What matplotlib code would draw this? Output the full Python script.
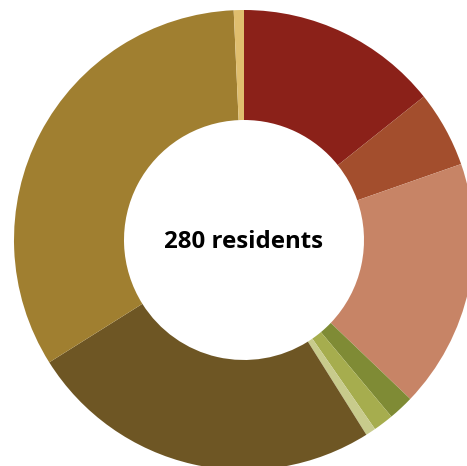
import matplotlib.pyplot as plt

# Residents by group, clockwise from 12 o'clock
groups = ["A", "B", "C", "D", "E", "F", "G", "H", "I"]
residents = [40, 15, 49, 5, 4, 2, 70, 93, 2]
colors = ["#8B2119", "#A34E2D", "#C78466", "#7F8B35", "#A6AD4E",
          "#C8CB8C", "#6E5624", "#A07F30", "#E0BE6E"]
total_label = f"{sum(residents)} residents"

fig = plt.figure(figsize=(4.67, 4.66), dpi=100)
ax = fig.add_axes([0, 0, 1, 1])

ax.pie(residents, colors=colors, startangle=90, counterclock=False,
       center=(244, 226), radius=230,
       wedgeprops=dict(width=110, linewidth=0))
ax.text(244, 224, total_label, ha="center", va="center",
        fontsize=17.3, fontweight="bold", family="Open Sans", color="black")

ax.set_xlim(0, 467)
ax.set_ylim(0, 466)
ax.set_aspect("equal")
ax.axis("off")

fig.savefig("out.png", dpi=100)
